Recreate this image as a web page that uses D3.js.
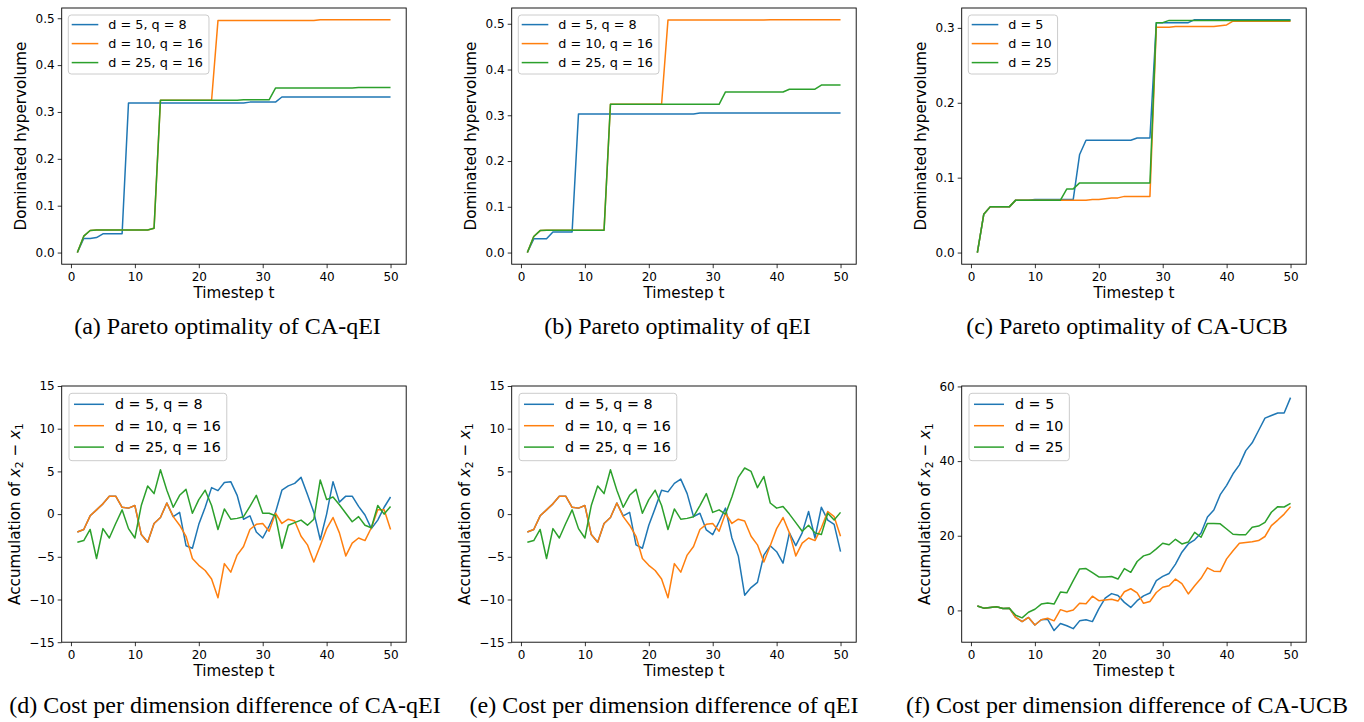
<!DOCTYPE html>
<html>
<head>
<meta charset="utf-8">
<script src="https://cdnjs.cloudflare.com/ajax/libs/d3/7.8.5/d3.min.js"></script>
<style>
  body { margin: 0; background: #fff; }
  svg { display: block; }
  .tick text { font-family: "DejaVu Sans", sans-serif; font-size: 12px; fill: #000; }
  .tick line { stroke: #000; stroke-width: 0.8; }
</style>
</head>
<body>
<svg id="fig" width="1364" height="722"></svg>
<script>
const width = 1364;
const height = 722;

const timesteps = d3.range(1, 51);
const seriesColors = ['#1f77b4', '#ff7f0e', '#2ca02c'];
const legendDQ = ['d = 5, q = 8', 'd = 10, q = 16', 'd = 25, q = 16'];
const legendD = ['d = 5', 'd = 10', 'd = 25'];
const xTicks = [0, 10, 20, 30, 40, 50];
const hvTicks5 = [0, 0.1, 0.2, 0.3, 0.4, 0.5];
const hvTicks3 = [0, 0.1, 0.2, 0.3];
const costTicks = [-15, -10, -5, 0, 5, 10, 15];
const ucbCostTicks = [0, 20, 40, 60];

// (a) dominated hypervolume, CA-qEI
const hvCaQeiD5 = [
  0, 0.030, 0.030, 0.032, 0.040, 0.040, 0.040, 0.040, 0.319, 0.319,
  0.319, 0.319, 0.319, 0.319, 0.319, 0.319, 0.319, 0.319, 0.319, 0.319,
  0.319, 0.319, 0.319, 0.319, 0.319, 0.319, 0.319, 0.321, 0.321, 0.321,
  0.321, 0.321, 0.332, 0.332, 0.332, 0.332, 0.332, 0.332, 0.332, 0.332,
  0.332, 0.332, 0.332, 0.332, 0.332, 0.332, 0.332, 0.332, 0.332, 0.332];
const hvCaQeiD10 = [
  0, 0.035, 0.047, 0.048, 0.048, 0.048, 0.048, 0.048, 0.048, 0.048,
  0.048, 0.048, 0.052, 0.325, 0.325, 0.325, 0.325, 0.325, 0.325, 0.325,
  0.325, 0.325, 0.495, 0.495, 0.495, 0.495, 0.495, 0.495, 0.495, 0.495,
  0.495, 0.495, 0.495, 0.495, 0.495, 0.495, 0.495, 0.495, 0.497, 0.497,
  0.497, 0.497, 0.497, 0.497, 0.497, 0.497, 0.497, 0.497, 0.497, 0.497];
const hvCaQeiD25 = [
  0, 0.035, 0.047, 0.048, 0.048, 0.048, 0.048, 0.048, 0.048, 0.048,
  0.048, 0.048, 0.052, 0.325, 0.325, 0.325, 0.325, 0.325, 0.325, 0.325,
  0.325, 0.325, 0.325, 0.325, 0.325, 0.325, 0.326, 0.326, 0.326, 0.326,
  0.326, 0.351, 0.351, 0.351, 0.351, 0.351, 0.351, 0.351, 0.351, 0.351,
  0.351, 0.351, 0.351, 0.351, 0.352, 0.352, 0.352, 0.352, 0.352, 0.352];

// (b) dominated hypervolume, qEI
const hvQeiD5 = [
  0, 0.030, 0.030, 0.030, 0.045, 0.045, 0.045, 0.045, 0.303, 0.303,
  0.303, 0.303, 0.303, 0.303, 0.303, 0.303, 0.303, 0.303, 0.303, 0.303,
  0.303, 0.303, 0.303, 0.303, 0.303, 0.303, 0.303, 0.305, 0.305, 0.305,
  0.305, 0.305, 0.305, 0.305, 0.305, 0.305, 0.305, 0.305, 0.305, 0.305,
  0.305, 0.305, 0.305, 0.305, 0.305, 0.305, 0.305, 0.305, 0.305, 0.305];
const hvQeiD10 = [
  0, 0.035, 0.048, 0.049, 0.049, 0.049, 0.049, 0.049, 0.049, 0.049,
  0.049, 0.049, 0.049, 0.324, 0.324, 0.324, 0.324, 0.324, 0.324, 0.324,
  0.324, 0.324, 0.508, 0.508, 0.508, 0.508, 0.508, 0.508, 0.508, 0.508,
  0.508, 0.508, 0.508, 0.508, 0.508, 0.508, 0.508, 0.508, 0.509, 0.509,
  0.509, 0.509, 0.509, 0.509, 0.509, 0.509, 0.509, 0.509, 0.509, 0.509];
const hvQeiD25 = [
  0, 0.035, 0.048, 0.049, 0.049, 0.049, 0.049, 0.049, 0.049, 0.049,
  0.049, 0.049, 0.049, 0.324, 0.324, 0.324, 0.324, 0.324, 0.324, 0.324,
  0.324, 0.324, 0.324, 0.324, 0.324, 0.324, 0.324, 0.324, 0.324, 0.324,
  0.324, 0.351, 0.351, 0.351, 0.351, 0.351, 0.351, 0.351, 0.351, 0.351,
  0.351, 0.357, 0.357, 0.357, 0.357, 0.357, 0.366, 0.366, 0.366, 0.366];

// (c) dominated hypervolume, CA-UCB
const hvCaUcbD5 = [
  0, 0.051, 0.061, 0.061, 0.061, 0.061, 0.070, 0.070, 0.070, 0.071,
  0.071, 0.071, 0.071, 0.071, 0.071, 0.071, 0.131, 0.150, 0.150, 0.150,
  0.150, 0.150, 0.150, 0.150, 0.150, 0.153, 0.153, 0.153, 0.307, 0.307,
  0.307, 0.307, 0.307, 0.307, 0.311, 0.311, 0.311, 0.311, 0.311, 0.311,
  0.311, 0.311, 0.311, 0.311, 0.311, 0.311, 0.311, 0.311, 0.311, 0.311];
const hvCaUcbD10 = [
  0, 0.051, 0.061, 0.061, 0.061, 0.061, 0.070, 0.070, 0.070, 0.070,
  0.070, 0.070, 0.070, 0.070, 0.070, 0.070, 0.070, 0.070, 0.071, 0.071,
  0.072, 0.073, 0.073, 0.075, 0.075, 0.075, 0.075, 0.075, 0.301, 0.301,
  0.301, 0.302, 0.302, 0.302, 0.302, 0.302, 0.302, 0.302, 0.303, 0.304,
  0.309, 0.309, 0.309, 0.309, 0.309, 0.309, 0.309, 0.309, 0.309, 0.309];
const hvCaUcbD25 = [
  0, 0.051, 0.061, 0.061, 0.061, 0.061, 0.070, 0.070, 0.070, 0.070,
  0.070, 0.070, 0.070, 0.070, 0.085, 0.085, 0.093, 0.093, 0.093, 0.093,
  0.093, 0.093, 0.093, 0.093, 0.093, 0.093, 0.093, 0.093, 0.307, 0.307,
  0.310, 0.310, 0.310, 0.310, 0.310, 0.310, 0.310, 0.310, 0.310, 0.310,
  0.310, 0.310, 0.310, 0.310, 0.310, 0.310, 0.310, 0.310, 0.310, 0.310];

// (d) accumulated x2 - x1, CA-qEI
const costCaQeiD5 = [
  -2.1, -1.8, -0.2, 0.5, 1.2, 2.1, 2.1, 0.8, 0.7, 1.0,
  -2.4, -3.3, -1.1, -0.4, 1.3, -0.3, 0.2, -3.7, -4.0, -1.2,
  0.8, 3.1, 2.75, 3.7, 3.8, 2.2, -0.6, -0.2, -2.1, -2.8,
  -1.4, 0.2, 2.8, 3.3, 3.6, 4.3, 2.3, 0.2, -3.0, 0.0,
  3.8, 1.4, 2.1, 2.1, 0.9, -0.1, -1.7, -0.7, 0.8, 2.0];
const costCaQeiD10 = [
  -2.1, -1.8, -0.2, 0.5, 1.2, 2.1, 2.1, 0.8, 0.7, 1.0,
  -2.4, -3.3, -1.1, -0.4, 1.3, -0.3, -1.3, -2.6, -5.2, -6.0,
  -6.6, -7.6, -9.8, -5.8, -6.8, -4.8, -3.8, -1.8, -1.2, -1.1,
  -2.0, 0.1, -1.1, -0.6, -0.8, -2.6, -3.6, -5.6, -3.7, -1.7,
  -0.4, -2.2, -4.9, -3.4, -2.8, -3.1, -1.6, 0.5, 0.5, -1.8];
const costCaQeiD25 = [
  -3.3, -3.1, -1.8, -5.2, -1.7, -2.8, -1.1, 0.5, -1.7, -2.8,
  1.0, 3.3, 2.4, 5.2, 2.8, 0.8, 2.2, 2.9, 0.1, 1.7,
  2.8, 1.0, -1.8, 0.6, -0.6, -0.5, -0.3, 0.9, 2.2, 0.1,
  0.1, -0.2, -4.0, -1.3, -1.0, -0.7, -1.3, -0.6, 4.0, 1.7,
  2.0, 1.1, 0.1, -0.9, -0.3, -1.3, -1.6, 1.0, 0.0, 0.9];

// (e) accumulated x2 - x1, qEI
const costQeiD5 = [
  -2.1, -1.8, -0.2, 0.5, 1.2, 2.1, 2.1, 0.8, 0.7, 1.0,
  -2.4, -3.3, -1.1, -0.4, 1.3, -0.2, 0.2, -3.6, -4.0, -1.3,
  0.7, 2.8, 2.6, 3.6, 4.1, 2.4, -0.3, 0.1, -1.85, -2.4,
  -0.9, 0.7, -2.8, -4.9, -9.5, -8.6, -8.0, -4.8, -3.7, -4.4,
  -5.75, -2.2, -3.7, -2.2, 0.3, -2.8, 0.8, -0.7, -1.2, -4.4];
const costQeiD10 = [
  -2.1, -1.8, -0.2, 0.5, 1.2, 2.1, 2.1, 0.8, 0.7, 1.0,
  -2.4, -3.3, -1.1, -0.4, 1.3, -0.3, -1.3, -2.6, -5.2, -6.0,
  -6.6, -7.6, -9.8, -5.8, -6.8, -4.8, -3.8, -1.8, -1.2, -1.1,
  -2.0, 0.1, -1.1, -0.6, -0.8, -2.6, -3.6, -5.6, -3.7, -1.7,
  -0.4, -2.2, -4.9, -3.4, -2.8, -3.1, -1.6, 0.3, -0.3, -2.6];
const costQeiD25 = [
  -3.3, -3.1, -1.8, -5.2, -1.7, -2.8, -1.1, 0.5, -1.7, -2.8,
  1.0, 3.3, 2.4, 5.2, 2.8, 0.8, 2.2, 2.9, 0.1, 1.7,
  2.8, 1.0, -1.8, 0.6, -0.6, -0.5, -0.3, 1.0, 2.4, 0.2,
  0.5, 0.0, 2.0, 4.3, 5.4, 5.0, 3.1, 4.4, 1.3, 0.7,
  0.9, 0.0, -1.0, -2.0, -1.3, -2.2, -2.4, 0.1, -0.7, 0.2];

// (f) accumulated x2 - x1, CA-UCB
const costCaUcbD5 = [
  1.2, 0.6, 0.8, 1.0, 0.5, 0.6, -1.9, -3.0, -1.9, -3.9,
  -2.5, -2.4, -5.4, -3.5, -4.1, -4.9, -2.8, -2.5, -3.0, 0.4,
  3.3, 4.5, 4.0, 2.15, 0.8, 2.6, 3.9, 4.65, 8.0, 9.1,
  9.9, 12.4, 15.6, 17.8, 18.9, 20.75, 25.0, 26.9, 31.0, 33.5,
  36.6, 39.0, 42.8, 44.9, 48.2, 51.5, 52.2, 52.9, 52.9, 57.0];
const costCaUcbD10 = [
  1.2, 0.6, 0.8, 1.0, 0.5, 0.6, -1.9, -3.0, -1.9, -3.9,
  -2.5, -2.1, -2.8, 0.2, -0.35, 0.1, 1.9, 1.8, 3.8, 2.6,
  2.8, 3.0, 2.5, 5.0, 5.8, 4.7, 1.9, 2.4, 4.8, 6.2,
  6.6, 8.4, 7.2, 4.4, 6.6, 8.6, 11.4, 10.5, 10.4, 13.8,
  16.0, 18.0, 18.2, 18.4, 18.7, 19.8, 22.7, 24.2, 25.8, 27.8];
const costCaUcbD25 = [
  1.2, 0.6, 0.8, 1.0, 0.5, 0.6, -1.3, -2.0, -0.5, 0.3,
  1.7, 2.0, 1.7, 4.9, 4.7, 8.0, 11.1, 11.2, 10.1, 8.95,
  8.95, 9.1, 8.4, 11.2, 10.2, 13.1, 14.6, 15.1, 16.5, 18.0,
  17.6, 19.05, 17.8, 18.3, 20.9, 19.6, 23.3, 23.3, 23.2, 21.8,
  20.4, 20.3, 20.3, 22.3, 22.6, 23.6, 26.3, 27.8, 27.7, 28.7];

// layout
const colLeft = [61.7, 511.7, 961.7];
const rowTop = [8, 386];
const axW = 344.5;
const axH = 256.2;
const legendStyles = [
  {fs: 12.8, dx: 6.6, dy: 7, first: 9.6, gap: 19, h: 59, l0: 3.4, l1: 30, tx: 40},
  {fs: 14.3, dx: 7.3, dy: 7.3, first: 11, gap: 21.4, h: 67.4, l0: 5, l1: 35, tx: 46}
];

const panels = [
  {col: 0, row: 0, series: [hvCaQeiD5, hvCaQeiD10, hvCaQeiD25], names: legendDQ, ticks: hvTicks5, fmt: '.1f',
   ylabel: 'hv', ylabelX: -35.5, caption: '(a) Pareto optimality of CA-qEI', capX: 227.5},
  {col: 1, row: 0, series: [hvQeiD5, hvQeiD10, hvQeiD25], names: legendDQ, ticks: hvTicks5, fmt: '.1f',
   ylabel: 'hv', ylabelX: -35.5, caption: '(b) Pareto optimality of qEI', capX: 677.5},
  {col: 2, row: 0, series: [hvCaUcbD5, hvCaUcbD10, hvCaUcbD25], names: legendD, ticks: hvTicks3, fmt: '.1f',
   ylabel: 'hv', ylabelX: -35.5, caption: '(c) Pareto optimality of CA-UCB', capX: 1127},
  {col: 0, row: 1, series: [costCaQeiD5, costCaQeiD10, costCaQeiD25], names: legendDQ, ticks: costTicks, fmt: 'd',
   yDomain: [-15, 15], ylabel: 'cost', ylabelX: -41.5, caption: '(d) Cost per dimension difference of CA-qEI', capX: 225},
  {col: 1, row: 1, series: [costQeiD5, costQeiD10, costQeiD25], names: legendDQ, ticks: costTicks, fmt: 'd',
   yDomain: [-15, 15], ylabel: 'cost', ylabelX: -41.5, caption: '(e) Cost per dimension difference of qEI', capX: 664},
  {col: 2, row: 1, series: [costCaUcbD5, costCaUcbD10, costCaUcbD25], names: legendD, ticks: ucbCostTicks, fmt: 'd',
   ylabel: 'cost', ylabelX: -32.2, caption: '(f) Cost per dimension difference of CA-UCB', capX: 1127}
];

const svg = d3.select('#fig');

svg.append('defs').append('clipPath').attr('id', 'xlabClip')
  .append('rect').attr('x', -80).attr('y', 0).attr('width', axW + 160).attr('height', 292.2);

// matplotlib-style 5% margins
function padded(ext) {
  const m = (ext[1] - ext[0]) * 0.05;
  return [ext[0] - m, ext[1] + m];
}

function drawPanel(p) {
  const g = svg.append('g').attr('transform', `translate(${colLeft[p.col]},${rowTop[p.row]})`);
  const x = d3.scaleLinear().domain(padded(d3.extent(timesteps))).range([0, axW]);
  const y = d3.scaleLinear().domain(p.yDomain || padded(d3.extent(p.series.flat()))).range([axH, 0]);

  const line = d3.line().x((d, i) => x(timesteps[i])).y(d => y(d));
  g.selectAll('path.series').data(p.series).join('path')
      .attr('class', 'series')
      .attr('d', line)
      .attr('fill', 'none')
      .attr('stroke', (d, i) => seriesColors[i])
      .attr('stroke-width', 1.5)
      .attr('stroke-linejoin', 'round');

  g.append('g').attr('transform', `translate(0,${axH})`)
      .call(d3.axisBottom(x).tickValues(xTicks).tickFormat(d3.format('d')).tickSize(4).tickPadding(4).tickSizeOuter(0))
      .call(a => a.select('.domain').remove());
  g.append('g')
      .call(d3.axisLeft(y).tickValues(p.ticks).tickFormat(d3.format(p.fmt)).tickSize(4).tickPadding(3).tickSizeOuter(0))
      .call(a => a.select('.domain').remove());

  g.append('rect').attr('width', axW).attr('height', axH)
      .attr('fill', 'none').attr('stroke', '#000').attr('stroke-width', 0.9);

  // legend
  const ls = legendStyles[p.row];
  const lg = g.append('g').attr('transform', `translate(${ls.dx},${ls.dy})`);
  const box = lg.append('rect').attr('height', ls.h).attr('rx', 3)
      .attr('fill', '#fff').attr('fill-opacity', 0.8).attr('stroke', '#cccccc').attr('stroke-width', 1);
  let maxLen = 0;
  p.names.forEach((name, i) => {
    const yy = ls.first + i * ls.gap;
    lg.append('line').attr('x1', ls.l0).attr('x2', ls.l1).attr('y1', yy).attr('y2', yy)
        .attr('stroke', seriesColors[i]).attr('stroke-width', 1.5);
    const t = lg.append('text').attr('x', ls.tx).attr('y', yy).attr('dy', '0.36em')
        .attr('font-family', 'DejaVu Sans').attr('font-size', ls.fs).text(name);
    maxLen = Math.max(maxLen, t.node().getComputedTextLength());
  });
  box.attr('width', ls.tx + maxLen + 6);

  g.append('text').attr('x', axW / 2).attr('y', 290.3).attr('text-anchor', 'middle')
      .attr('clip-path', 'url(#xlabClip)')
      .attr('font-family', 'DejaVu Sans').attr('font-size', 15.2).text('Timestep t');

  const yl = g.append('text').attr('transform', `translate(${p.ylabelX},${axH / 2}) rotate(-90)`)
      .attr('text-anchor', 'middle').attr('font-family', 'DejaVu Sans').attr('font-size', 15.2);
  if (p.ylabel === 'hv') {
    yl.text('Dominated hypervolume');
  } else {
    yl.append('tspan').text('Accumulation of ');
    yl.append('tspan').attr('font-style', 'italic').text('x');
    yl.append('tspan').attr('font-size', 10.6).attr('dy', 3).text('2');
    yl.append('tspan').attr('dy', -3).text(' \u2212 ');
    yl.append('tspan').attr('font-style', 'italic').text('x');
    yl.append('tspan').attr('font-size', 10.6).attr('dy', 3).text('1');
  }

  svg.append('text').attr('x', p.capX).attr('y', p.row === 0 ? 334 : 712.5)
      .attr('text-anchor', 'middle').attr('font-family', 'Liberation Serif').attr('font-size', 24)
      .text(p.caption);
}

panels.forEach(drawPanel);
</script>
</body>
</html>
